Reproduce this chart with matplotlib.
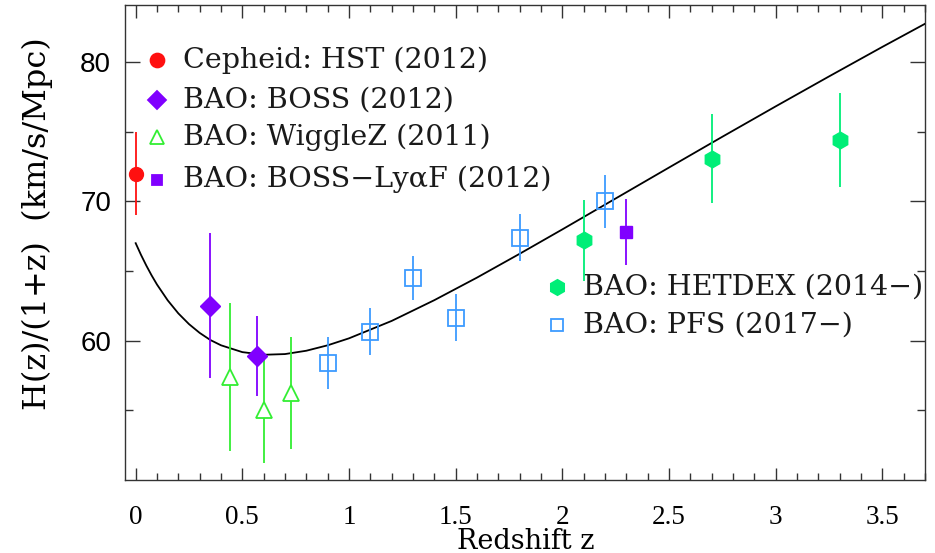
import matplotlib
matplotlib.use("Agg")
import matplotlib.pyplot as plt
import numpy as np
from matplotlib.ticker import MultipleLocator, FixedLocator, FuncFormatter

# data: z, H(z)/(1+z), error
hst_z = [0.0]
hst_h = [72.0]
hst_e = [3.0]

boss_z = [0.35, 0.57]
boss_h = [62.5, 58.9]
boss_e = [5.2, 2.9]

wigglez_z = [0.44, 0.60, 0.73]
wigglez_h = [57.4, 55.0, 56.25]
wigglez_e = [5.3, 3.8, 4.0]

lyaf_z = [2.30]
lyaf_h = [67.8]
lyaf_e = [2.4]

hetdex_z = [2.1, 2.7, 3.3]
hetdex_h = [67.2, 73.05, 74.4]
hetdex_e = [2.9, 3.2, 3.4]

pfs_z = [0.9, 1.1, 1.3, 1.5, 1.8, 2.2]
pfs_h = [58.4, 60.65, 64.5, 61.65, 67.4, 70.0]
pfs_e = [1.9, 1.7, 1.6, 1.7, 1.7, 1.9]

# model curve
curve_z = [0.0, 0.025, 0.05, 0.075, 0.1, 0.15, 0.2, 0.25, 0.3, 0.35, 0.4,
           0.5, 0.6, 0.7, 0.8, 0.9, 1.0, 1.2, 1.4, 1.6, 1.8, 2.0, 2.25, 2.5,
           2.75, 3.0, 3.25, 3.5, 3.7]
curve_h = [67.0, 66.16, 65.39, 64.68, 64.03, 62.9, 61.96, 61.19, 60.56, 60.05,
           59.67, 59.18, 58.99, 59.04, 59.28, 59.67, 60.17, 61.42, 62.91,
           64.53, 66.24, 67.99, 70.21, 72.43, 74.64, 76.82, 78.97, 81.09, 82.75]

red = "#ff1010"
purple = "#8000ff"
green = "#33ee33"
spring = "#00ee77"
blue = "#3d9bff"

fig = plt.figure(figsize=(9.35, 5.53), dpi=100)
ax = fig.add_axes([0.1337, 0.132, 0.8556, 0.859])

ax.plot(curve_z, curve_h, color="black", lw=1.3, zorder=3)

eb = dict(ls="none", elinewidth=1.3, capsize=0, zorder=4)
ax.errorbar(hst_z, hst_h, yerr=hst_e, fmt="o", color=red, ms=10, **eb)
ax.errorbar(boss_z, boss_h, yerr=boss_e, fmt="D", color=purple, ms=10, **eb)
ax.errorbar(wigglez_z, wigglez_h, yerr=wigglez_e, fmt="^", color=green, ms=11,
            mfc="white", mew=1.3, **eb)
ax.errorbar(lyaf_z, lyaf_h, yerr=lyaf_e, fmt="s", color=purple, ms=8, **eb)
ax.errorbar(hetdex_z, hetdex_h, yerr=hetdex_e, fmt="h", color=spring, ms=12, **eb)
ax.errorbar(pfs_z, pfs_h, yerr=pfs_e, fmt="s", color=blue, ms=11,
            mfc="none", mew=1.3, **eb)

# legend entries drawn by hand
txt = dict(transform=ax.transAxes, fontsize=20.5, family="DejaVu Serif",
           va="center", ha="left", color="#1a1a1a")
left = [("o", red, red, 10, "Cepheid: HST (2012)", 0.884),
        ("D", purple, purple, 9, "BAO: BOSS (2012)", 0.800),
        ("^", green, "white", 10, "BAO: WiggleZ (2011)", 0.722),
        ("s", purple, purple, 7, "BAO: BOSS\u2212Ly\u03b1F (2012)", 0.632)]
for m, c, fc, s, lab, y in left:
    ax.plot([0.04], [y], m, color=c, mfc=fc, ms=s, mew=1.3, transform=ax.transAxes)
    ax.text(0.0725, y, lab, **txt)
right = [("h", spring, spring, 11, "BAO: HETDEX (2014\u2212)", 0.407),
         ("s", blue, "none", 9, "BAO: PFS (2017\u2212)", 0.326)]
for m, c, fc, s, lab, y in right:
    ax.plot([0.54], [y], m, color=c, mfc=fc, ms=s, mew=1.3, transform=ax.transAxes)
    ax.text(0.5725, y, lab, **txt)

ax.set_xlim(-0.05, 3.70)
ax.set_ylim(50, 84.1)
ax.xaxis.set_major_locator(MultipleLocator(0.5))
ax.xaxis.set_minor_locator(MultipleLocator(0.1))
ax.yaxis.set_major_locator(FixedLocator([60, 70, 80]))
ax.yaxis.set_minor_locator(FixedLocator([55, 65, 75]))
ax.xaxis.set_major_formatter(FuncFormatter(lambda v, p: "%g" % round(v, 2)))
ax.tick_params(which="both", direction="in", top=True, right=True, color="#333333")
ax.tick_params(which="major", length=11, width=1)
ax.tick_params(which="minor", length=6, width=1)
ax.tick_params(axis="x", which="major", length=9, pad=18)
ax.tick_params(axis="x", which="minor", length=5)
ax.tick_params(axis="y", pad=10)
for lab in ax.get_xticklabels():
    lab.set_family("Liberation Serif")
    lab.set_fontsize(19.5)
for lab in ax.get_yticklabels():
    lab.set_family("Liberation Sans")
    lab.set_fontsize(20)
for sp in ax.spines.values():
    sp.set_color("#333333")
    sp.set_linewidth(1)

ax.set_xlabel("Redshift z", family="DejaVu Serif", fontsize=19.5)
ax.xaxis.label.set_va("baseline")
ax.xaxis.set_label_coords(0.501, -0.1445)
ax.set_ylabel("H(z)/(1+z)  (km/s/Mpc)", family="DejaVu Serif", fontsize=23)
ax.yaxis.set_label_coords(-0.09, 0.54)

fig.savefig("out.png", dpi=100)
